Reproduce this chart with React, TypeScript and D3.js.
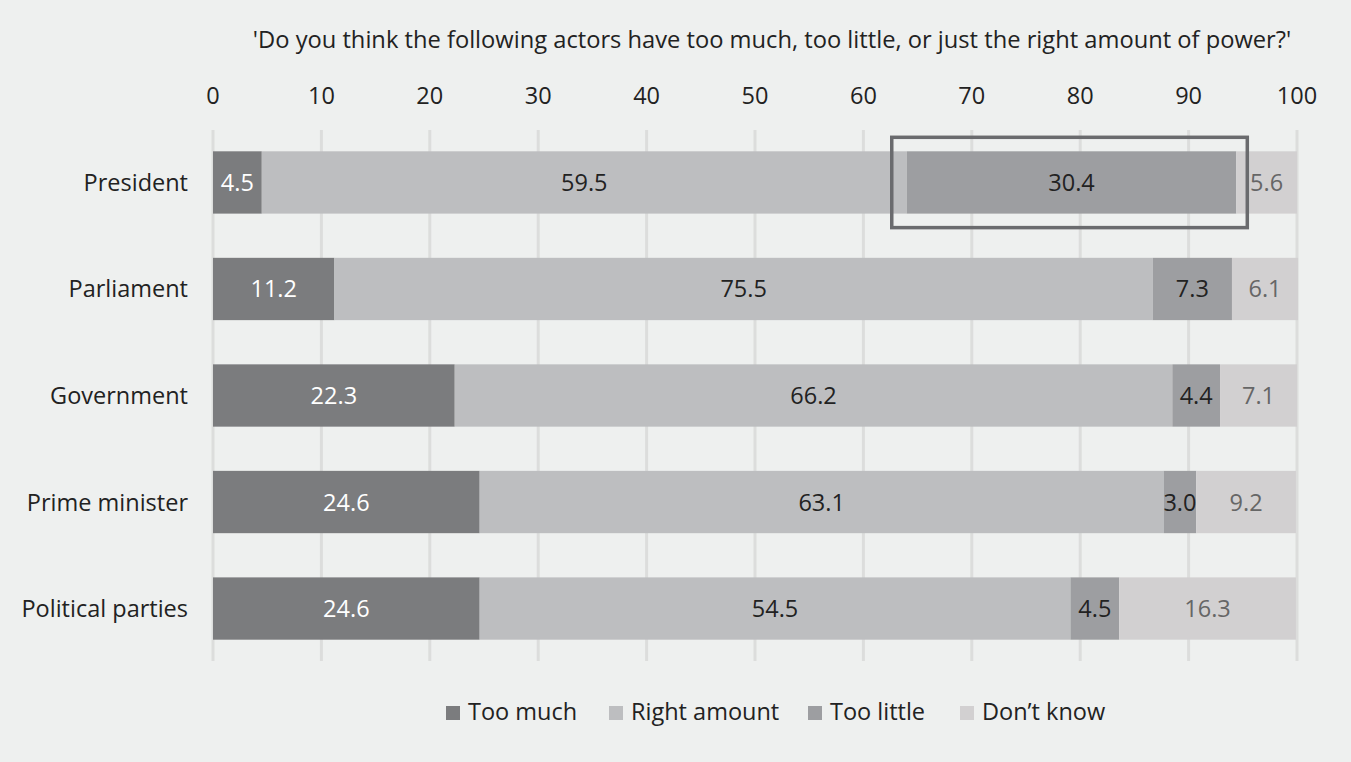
import React from 'react';
import * as d3 from 'd3';

const actors = ['President', 'Parliament', 'Government', 'Prime minister', 'Political parties'];
const seriesNames = ['Too much', 'Right amount', 'Too little', 'Don\u2019t know'];
const tooMuch = [4.5, 11.2, 22.3, 24.6, 24.6];
const rightAmount = [59.5, 75.5, 66.2, 63.1, 54.5];
const tooLittle = [30.4, 7.3, 4.4, 3.0, 4.5];
const dontKnow = [5.6, 6.1, 7.1, 9.2, 16.3];
const ticks = [0, 10, 20, 30, 40, 50, 60, 70, 80, 90, 100];

const fills = ['#7b7c7e', '#bdbec0', '#9d9ea1', '#d2d0d1'];
const labelColors = ['#ffffff', '#222222', '#222222', '#666666'];
const font = '"Open Sans", "Noto Sans", sans-serif';
const fs = 23.5;

const W = 1351;
const H = 762;

const App: React.FC = () => {
  const x = d3.scaleLinear().domain([0, 100]).range([213, 1297]);
  const y = d3.scaleBand().domain(actors).range([130, 661]).paddingInner(0.415).paddingOuter(0.2);

  const rows = actors.map((a, i) => ({
    actor: a,
    values: [tooMuch[i], rightAmount[i], tooLittle[i], dontKnow[i]],
  }));

  const stacked = rows.map((r) => {
    let acc = 0;
    return r.values.map((v, k) => {
      const s = { x0: acc, x1: acc + v, v, k };
      acc += v;
      return s;
    });
  });

  // highlighted "too little" segment for the president
  const hl = stacked[0][2];
  const band = y.bandwidth();

  const legendX = [446, 609, 808, 960];

  return (
    <div style={{ position: 'absolute', left: 0, top: 0 }}>
      <svg width={W} height={H} style={{ display: 'block', fontFamily: font }}>
        <rect width={W} height={H} fill="#eef0ef" />
        <text x={772} y={48} textAnchor="middle" fontSize={23.7} fill="#222">
          'Do you think the following actors have too much, too little, or just the right amount of power?'
        </text>
        {ticks.map((t) => (
          <g key={t}>
            <line x1={x(t)} x2={x(t)} y1={130} y2={661} stroke="#dcdddc" strokeWidth={3} />
            <text x={x(t)} y={104} textAnchor="middle" fontSize={fs} fill="#222">
              {t}
            </text>
          </g>
        ))}
        {rows.map((r, i) => (
          <g key={r.actor}>
            <text x={188} y={y(r.actor)! + band / 2 + 8.5} textAnchor="end" fontSize={fs} fill="#222">
              {r.actor}
            </text>
            {stacked[i].map((s) => (
              <g key={s.k}>
                <rect
                  x={x(s.x0)}
                  y={y(r.actor)}
                  width={x(s.x1) - x(s.x0)}
                  height={band}
                  fill={fills[s.k]}
                />
                <text
                  x={(x(s.x0) + x(s.x1)) / 2}
                  y={y(r.actor)! + band / 2 + 8.5}
                  textAnchor="middle"
                  fontSize={fs}
                  fill={labelColors[s.k]}
                >
                  {s.v.toFixed(1)}
                </text>
              </g>
            ))}
          </g>
        ))}
        <rect
          x={x(hl.x0) - 15}
          y={y(actors[0])! - 14}
          width={x(hl.x1) - x(hl.x0) + 26}
          height={band + 28}
          fill="none"
          stroke="#6a6b6e"
          strokeWidth={3.5}
        />
        {seriesNames.map((n, k) => (
          <g key={n}>
            <rect x={legendX[k]} y={706} width={14} height={14} fill={fills[k]} />
            <text x={legendX[k] + 22} y={719.5} fontSize={fs} fill="#222">
              {n}
            </text>
          </g>
        ))}
      </svg>
    </div>
  );
};

export default App;
